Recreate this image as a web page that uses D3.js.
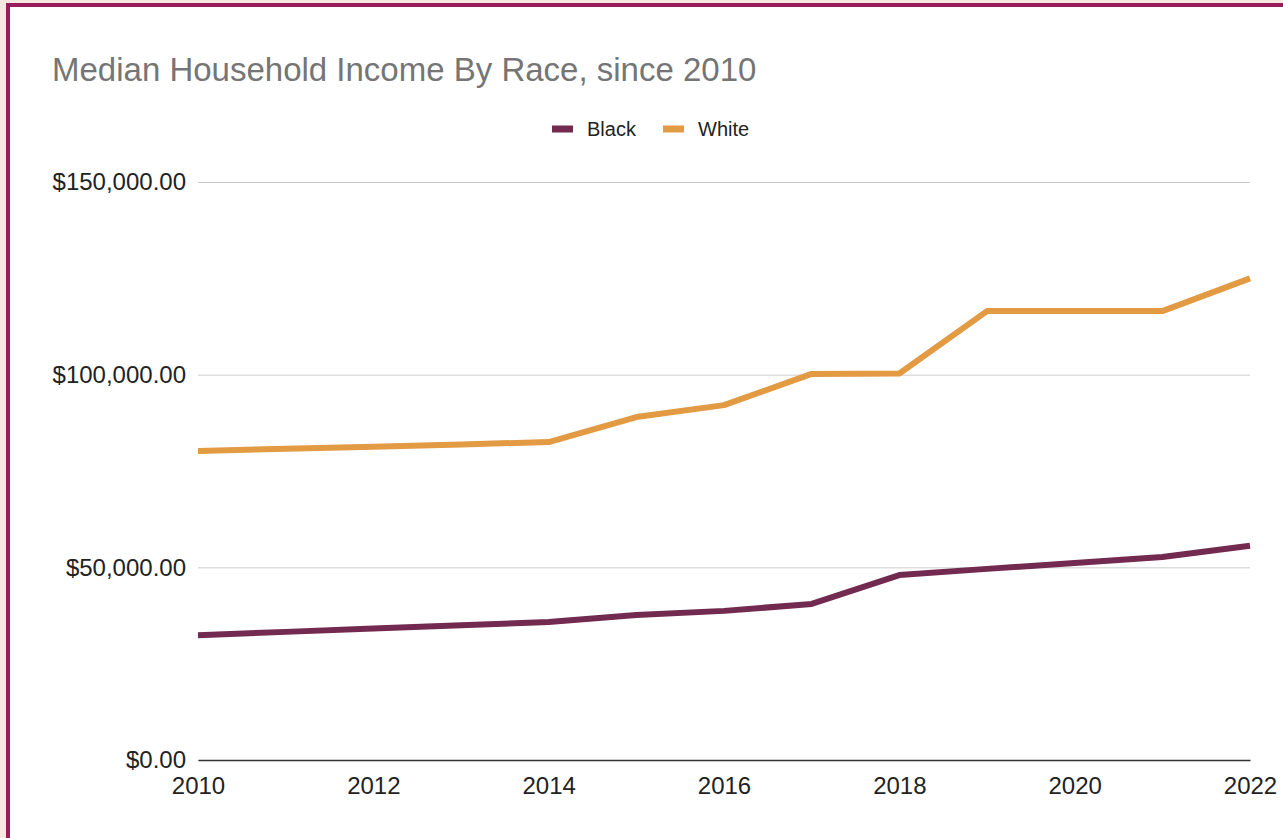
<!DOCTYPE html>
<html>
<head>
<meta charset="utf-8">
<script src="https://cdn.jsdelivr.net/npm/d3@7"></script>
<style>
  body { margin: 0; background: #f3e9e0; }
  #frame {
    position: absolute; left: 6px; top: 3px; width: 1290px; height: 850px;
    background: #fff; border: 4px solid #9a1c5c; box-sizing: border-box;
  }
  svg { position: absolute; left: 0; top: 0; font-family: "Liberation Sans", Arial, sans-serif; }
</style>
</head>
<body>
<div id="frame"></div>
<div id="chart"></div>
<script>
// chart data
const years = [2010, 2011, 2012, 2013, 2014, 2015, 2016, 2017, 2018, 2019, 2020, 2021, 2022];
const black = [32400, 33250, 34100, 34950, 35800, 37600, 38700, 40500, 48000, 49600, 51100, 52700, 55600];
const white = [80200, 80800, 81300, 81900, 82500, 89000, 92100, 100200, 100300, 116500, 116500, 116500, 125000];
const seriesNames = ["Black", "White"];
const seriesColors = ["#722a50", "#e29a43"];
const yTicks = [0, 50000, 100000, 150000];
const xTicks = [2010, 2012, 2014, 2016, 2018, 2020, 2022];

const width = 1283, height = 838;
const margin = { top: 182, bottom: 78, left: 198, right: 33 };

const svg = d3.select("#chart").append("svg")
  .attr("width", width)
  .attr("height", height);

const x = d3.scaleLinear()
  .domain([2010, 2022])
  .range([margin.left, width - margin.right]);

const y = d3.scaleLinear()
  .domain([0, 150000])
  .range([height - margin.bottom, margin.top]);

// title
svg.append("text")
  .attr("x", 52).attr("y", 81)
  .attr("font-size", "33px")
  .attr("fill", "#757575")
  .text("Median Household Income By Race, since 2010");

// legend
const legend = svg.append("g").attr("transform", "translate(552,129)");
const legendX = [0, 111];
seriesNames.forEach((name, i) => {
  const g = legend.append("g").attr("transform", `translate(${legendX[i]},0)`);
  g.append("rect").attr("x", 0).attr("y", -3.5).attr("width", 21).attr("height", 7)
    .attr("fill", seriesColors[i]);
  g.append("text").attr("x", 35).attr("y", 7)
    .attr("font-size", "20px").attr("fill", "#222").text(name);
});

// y axis + gridlines
const fmt = d3.format("$,.2f");
const yAxis = g => {
  g.attr("transform", `translate(${margin.left},0)`)
    .call(d3.axisLeft(y).tickValues(yTicks).tickFormat(fmt)
      .tickSize(-(width - margin.left - margin.right)).tickPadding(12))
    .call(g => g.select(".domain").remove())
    .call(g => g.selectAll(".tick line").attr("stroke", "#cccccc"))
    .call(g => g.selectAll(".tick text").attr("font-size", "24px").attr("fill", "#222"))
    .attr("font-family", null);
};
svg.append("g").call(yAxis);

// x axis
const xAxis = g => {
  g.attr("transform", `translate(0,${height - margin.bottom})`)
    .call(d3.axisBottom(x).tickValues(xTicks).tickFormat(d3.format("d")).tickSize(0).tickPadding(17))
    .call(g => g.select(".domain").attr("stroke", "#333").attr("stroke-width", 1.5))
    .call(g => g.selectAll(".tick text").attr("font-size", "24px").attr("fill", "#222"))
    .attr("font-family", null);
};
svg.append("g").call(xAxis);

// lines
const line = d3.line()
  .x((d, i) => x(years[i]))
  .y(d => y(d));

[black, white].forEach((vals, i) => {
  svg.append("path")
    .datum(vals)
    .attr("fill", "none")
    .attr("stroke", seriesColors[i])
    .attr("stroke-width", 6)
    .attr("stroke-linejoin", "round")
    .attr("d", line);
});
</script>
</body>
</html>
